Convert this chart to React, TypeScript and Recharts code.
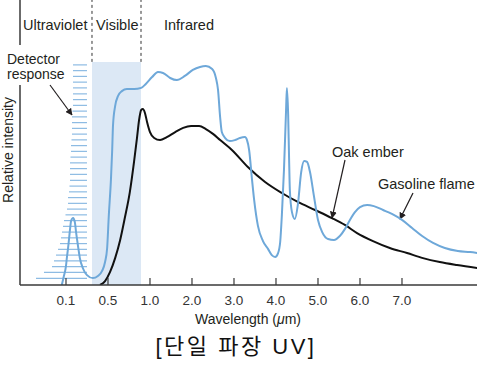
import React from 'react';
import { ComposedChart, Line, XAxis, YAxis, ReferenceLine, ReferenceArea, Customized } from 'recharts';

// x values are positions on the (non-linear) wavelength axis: tick slot index
const tickPositions = [0, 1, 2, 3, 4, 5, 6, 7, 8];
const tickLabels = ['0.1', '0.5', '1.0', '2.0', '3.0', '4.0', '5.0', '6.0', '7.0'];

// Gasoline flame (blue)
const gasolineX = [-0.10, -0.05, 0.00, 0.02, 0.05, 0.10, 0.12, 0.17, 0.21, 0.24, 0.29, 0.33, 0.40, 0.50, 0.64, 0.76, 0.86, 0.93, 0.98, 1.02, 1.07, 1.10, 1.12, 1.17, 1.24, 1.33, 1.45, 1.62, 1.79, 1.90, 2.05, 2.19, 2.31, 2.48, 2.64, 2.83, 3.02, 3.19, 3.33, 3.48, 3.57, 3.62, 3.67, 3.71, 3.79, 3.90, 4.02, 4.14, 4.26, 4.31, 4.36, 4.43, 4.48, 4.57, 4.69, 4.81, 4.90, 4.98, 5.05, 5.10, 5.14, 5.19, 5.24, 5.26, 5.29, 5.31, 5.33, 5.38, 5.45, 5.52, 5.60, 5.67, 5.74, 5.81, 5.90, 6.00, 6.10, 6.24, 6.38, 6.52, 6.64, 6.76, 6.88, 7.00, 7.17, 7.33, 7.55, 7.76, 8.00, 8.24, 8.48, 8.74, 9.02, 9.33, 9.62, 9.79];
const gasolineY = [0, 3.9, 8.3, 11.7, 16.1, 24.8, 27.8, 29.1, 27.4, 23.0, 16.5, 11.7, 7.4, 4.3, 3.0, 3.9, 6.1, 10.0, 16.1, 30.4, 45.7, 58.7, 69.6, 77.8, 82.2, 84.3, 85.2, 85.2, 85.7, 87.4, 90.4, 92.6, 92.2, 90.0, 89.1, 90.9, 93.5, 94.8, 95.2, 93.9, 90.0, 84.8, 73.0, 66.5, 63.9, 62.6, 63.0, 63.9, 64.3, 63.0, 58.7, 45.7, 37.0, 25.7, 19.1, 15.7, 13.0, 12.2, 13.9, 18.7, 30.4, 50.0, 76.1, 85.7, 73.9, 56.5, 41.3, 31.7, 28.7, 34.8, 49.1, 53.9, 53.5, 49.1, 39.1, 28.3, 23.0, 20.0, 19.6, 21.3, 24.3, 28.3, 31.7, 33.9, 34.8, 34.3, 32.6, 30.9, 28.3, 24.8, 21.3, 18.3, 16.1, 14.8, 14.3, 13.9];

// Oak ember (black)
const oakX = [0.81, 0.93, 1.05, 1.17, 1.29, 1.40, 1.52, 1.62, 1.69, 1.74, 1.79, 1.83, 1.88, 1.93, 2.00, 2.10, 2.24, 2.40, 2.60, 2.79, 2.98, 3.17, 3.33, 3.50, 3.67, 3.95, 4.33, 4.74, 5.14, 5.52, 5.93, 6.33, 6.64, 6.93, 7.31, 7.71, 8.12, 8.50, 8.90, 9.31, 9.79];
const oakY = [0, 1.7, 5.7, 11.7, 19.6, 29.1, 40.4, 53.5, 63.9, 71.7, 76.1, 76.5, 74.8, 70.9, 66.5, 63.9, 63.0, 64.3, 66.5, 68.3, 69.1, 69.1, 67.8, 65.7, 63.0, 58.7, 51.3, 44.8, 40.0, 36.1, 32.6, 29.1, 26.1, 22.6, 19.1, 16.1, 13.9, 11.7, 10.0, 8.7, 7.4];

// Detector response comb
const detectorLevels = [95.7, 93.2, 90.7, 88.2, 85.7, 83.1, 80.6, 78.1, 75.6, 73.1, 70.6, 68.1, 65.6, 63.1, 60.6, 58.1, 55.6, 53.1, 50.6, 48.1, 45.5, 43.0, 40.5, 38.0, 35.5, 33.0, 30.5, 28.0, 25.5, 23.0, 20.5, 18.0, 15.5, 13.0, 10.5, 8.0, 5.5, 2.9];
const detectorStart = [0.167, 0.167, 0.167, 0.167, 0.167, 0.167, 0.167, 0.167, 0.155, 0.143, 0.143, 0.143, 0.143, 0.131, 0.119, 0.119, 0.107, 0.095, 0.095, 0.095, 0.095, 0.083, 0.071, 0.048, 0.048, 0.024, -0.012, -0.048, -0.071, -0.095, -0.119, -0.143, -0.19, -0.238, -0.286, -0.333, -0.524, -0.714];
const detectorEnd = 0.5;

// Region boundaries (axis positions) and band extents (intensity units)
const visibleStart = 0.619;
const visibleEnd = 1.786;
const axisMin = -1.095;
const axisMax = 9.786;

const gasolineData = gasolineX.map((x, i) => ({ x, y: gasolineY[i] }));
const oakData = oakX.map((x, i) => ({ x, y: oakY[i] }));

const TXT = '#231f20';
const FONT = '"Liberation Sans", Arial, sans-serif';

const Annotations = () => (
  <g fontFamily={FONT} fill={TXT}>
    <defs>
      <marker id="arr" viewBox="0 0 10 10" refX="9" refY="5" markerWidth="7" markerHeight="7" orient="auto-start-reverse" markerUnits="userSpaceOnUse">
        <path d="M0,0 L10,5 L0,10 z" fill={TXT} />
      </marker>
    </defs>
    <text x={23} y={30} fontSize={14.5}>Ultraviolet</text>
    <text x={96} y={30} fontSize={14.5}>Visible</text>
    <text x={164} y={30} fontSize={14.5}>Infrared</text>
    <text x={7} y={64} fontSize={14}>Detector</text>
    <text x={7} y={79} fontSize={14}>response</text>
    <line x1={50} y1={85} x2={72} y2={115} stroke={TXT} strokeWidth={1.2} markerEnd="url(#arr)" />
    <text x={332} y={157} fontSize={14.5}>Oak ember</text>
    <line x1={345} y1={160} x2={332} y2={218} stroke={TXT} strokeWidth={1.2} markerEnd="url(#arr)" />
    <text x={378} y={189} fontSize={14.5}>Gasoline flame</text>
    <line x1={413} y1={193} x2={400} y2={219} stroke={TXT} strokeWidth={1.2} markerEnd="url(#arr)" />
    <text x={13} y={150} fontSize={14} textAnchor="middle" transform="rotate(-90 13 150)">Relative intensity</text>
    <text x={248} y={324} fontSize={14} textAnchor="middle">
      Wavelength (<tspan fontStyle="italic">μ</tspan>m)
    </text>
    <text x={236} y={354} fontSize={22} letterSpacing={2.5} textAnchor="middle" fontFamily='"Liberation Sans", "Noto Sans CJK KR", sans-serif' fill="#111">[단일 파장 UV]</text>
  </g>
);

export default function App() {
  return (
    <div style={{ position: 'absolute', left: 0, top: 0, background: '#fff' }}>
      <ComposedChart width={478} height={377} margin={{ top: 55, right: 1, bottom: 0, left: 20 }}>
        <XAxis
          type="number"
          dataKey="x"
          domain={[axisMin, axisMax]}
          ticks={tickPositions}
          interval={0}
          allowDataOverflow
          tickFormatter={(v: number) => tickLabels[v]}
          height={92}
          tickSize={-7}
          tickMargin={17}
          axisLine={{ stroke: '#3a3a3a', strokeWidth: 1.5 }}
          tickLine={{ stroke: '#3a3a3a', strokeWidth: 1.2 }}
          tick={{ fontSize: 13.5, fill: '#333', fontFamily: FONT }}
        />
        <YAxis hide type="number" domain={[0, 100]} allowDataOverflow />
        <ReferenceArea x1={visibleStart} x2={visibleEnd} y1={0} y2={97} fill="#dce8f5" fillOpacity={1} stroke="none" ifOverflow="visible" />
        {detectorLevels.map((lv, i) => (
          <ReferenceLine
            key={'d' + i}
            segment={[{ x: detectorStart[i], y: lv }, { x: detectorEnd, y: lv }]}
            stroke="#8dbbe3"
            strokeWidth={1.2}
            ifOverflow="visible"
          />
        ))}
        <ReferenceLine segment={[{ x: visibleStart, y: 97 }, { x: visibleStart, y: 124 }]} stroke="#333" strokeWidth={1} strokeDasharray="3 3" ifOverflow="visible" />
        <ReferenceLine segment={[{ x: visibleEnd, y: 97 }, { x: visibleEnd, y: 124 }]} stroke="#333" strokeWidth={1} strokeDasharray="3 3" ifOverflow="visible" />
        <ReferenceLine segment={[{ x: axisMin, y: 104.3 }, { x: axisMin, y: 124 }]} stroke="#3a3a3a" strokeWidth={1.5} ifOverflow="visible" />
        <ReferenceLine segment={[{ x: axisMin, y: 0 }, { x: axisMin, y: 87 }]} stroke="#3a3a3a" strokeWidth={1.5} ifOverflow="visible" />
        <Line data={oakData} dataKey="y" type="monotone" stroke="#111" strokeWidth={2} dot={false} isAnimationActive={false} />
        <Line data={gasolineData} dataKey="y" type="monotone" stroke="#6ea8d9" strokeWidth={2} dot={false} isAnimationActive={false} />
        <Customized component={Annotations} />
      </ComposedChart>
    </div>
  );
}
